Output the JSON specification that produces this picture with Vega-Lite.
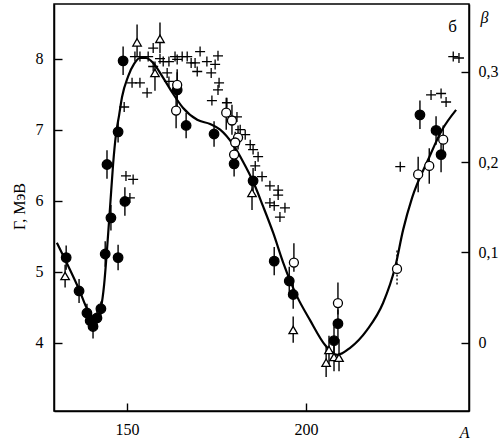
{
  "$schema": "https://vega.github.io/schema/vega-lite/v6.json",
  "width": 415,
  "height": 407,
  "autosize": "none",
  "padding": {"left": 54, "top": 4, "right": 34, "bottom": 31},
  "background": "white",
  "config": {
    "view": {"stroke": "black", "strokeWidth": 1.5},
    "font": "Liberation Serif",
    "axis": {
      "grid": false,
      "domainColor": "black",
      "domainWidth": 1.5,
      "tickColor": "black",
      "tickWidth": 1.4,
      "tickSize": -8,
      "labelColor": "black",
      "titleColor": "black",
      "labelFont": "Liberation Serif",
      "titleFont": "Liberation Serif",
      "labelFontSize": 16,
      "titleFontSize": 16,
      "titleFontWeight": "normal"
    }
  },
  "datasets": {
    "curve": [
      {"A": 130.4, "G": 5.41}, {"A": 133.0, "G": 5.14}, {"A": 136.6, "G": 4.75},
      {"A": 139.1, "G": 4.45}, {"A": 141.3, "G": 4.32}, {"A": 142.7, "G": 4.49},
      {"A": 143.6, "G": 4.82}, {"A": 144.4, "G": 5.31}, {"A": 145.3, "G": 5.94},
      {"A": 146.1, "G": 6.51}, {"A": 146.9, "G": 6.93}, {"A": 147.8, "G": 7.21},
      {"A": 148.6, "G": 7.46}, {"A": 150.3, "G": 7.75}, {"A": 152.0, "G": 7.93},
      {"A": 153.6, "G": 8.01}, {"A": 155.3, "G": 8.01}, {"A": 157.3, "G": 7.94},
      {"A": 160.1, "G": 7.73}, {"A": 162.8, "G": 7.51}, {"A": 165.6, "G": 7.31},
      {"A": 169.6, "G": 7.14}, {"A": 173.2, "G": 7.08}, {"A": 176.0, "G": 7.0},
      {"A": 179.6, "G": 6.79}, {"A": 182.4, "G": 6.55}, {"A": 185.2, "G": 6.27},
      {"A": 188.0, "G": 5.92}, {"A": 190.8, "G": 5.55}, {"A": 193.6, "G": 5.13},
      {"A": 197.5, "G": 4.65}, {"A": 201.1, "G": 4.32}, {"A": 205.3, "G": 3.97},
      {"A": 208.7, "G": 3.83}, {"A": 212.3, "G": 3.93}, {"A": 217.0, "G": 4.18},
      {"A": 221.5, "G": 4.56}, {"A": 224.9, "G": 5.07}, {"A": 227.1, "G": 5.59},
      {"A": 229.6, "G": 6.04}, {"A": 234.1, "G": 6.58}, {"A": 238.0, "G": 7.0},
      {"A": 241.9, "G": 7.28}
    ],
    "points": [
      {"A": 149.2, "G": 7.32, "series": "cross"}, {"A": 151.4, "G": 7.66, "series": "cross"},
      {"A": 153.6, "G": 7.66, "series": "cross"}, {"A": 155.6, "G": 7.52, "series": "cross"},
      {"A": 149.7, "G": 6.35, "series": "cross"}, {"A": 151.7, "G": 6.30, "series": "cross"},
      {"A": 150.8, "G": 6.04, "series": "cross"}, {"A": 153.6, "G": 8.03, "series": "cross"},
      {"A": 152.2, "G": 8.03, "series": "cross"}, {"A": 155.9, "G": 8.03, "series": "cross"},
      {"A": 157.3, "G": 8.15, "series": "cross"}, {"A": 157.3, "G": 7.89, "series": "cross"},
      {"A": 159.2, "G": 8.0, "series": "cross"}, {"A": 160.1, "G": 7.96, "series": "cross"},
      {"A": 161.7, "G": 7.96, "series": "cross"}, {"A": 161.2, "G": 7.80, "series": "cross"},
      {"A": 161.7, "G": 7.68, "series": "cross"}, {"A": 163.4, "G": 8.03, "series": "cross"},
      {"A": 164.0, "G": 7.99, "series": "cross"}, {"A": 165.4, "G": 8.03, "series": "cross"},
      {"A": 166.8, "G": 8.03, "series": "cross"}, {"A": 167.9, "G": 7.94, "series": "cross"},
      {"A": 169.0, "G": 7.94, "series": "cross"}, {"A": 170.4, "G": 8.10, "series": "cross"},
      {"A": 172.3, "G": 7.96, "series": "cross"}, {"A": 175.4, "G": 8.04, "series": "cross"},
      {"A": 174.6, "G": 7.92, "series": "cross"}, {"A": 169.6, "G": 7.82, "series": "cross"},
      {"A": 173.5, "G": 7.80, "series": "cross"}, {"A": 175.7, "G": 7.66, "series": "cross"},
      {"A": 175.4, "G": 7.56, "series": "cross"}, {"A": 173.7, "G": 7.41, "series": "cross"},
      {"A": 177.9, "G": 7.38, "series": "cross"}, {"A": 180.7, "G": 7.18, "series": "cross"},
      {"A": 181.6, "G": 7.0, "series": "cross"}, {"A": 183.0, "G": 6.93, "series": "cross"},
      {"A": 184.4, "G": 6.79, "series": "cross"}, {"A": 185.2, "G": 6.72, "series": "cross"},
      {"A": 186.6, "G": 6.62, "series": "cross"}, {"A": 185.8, "G": 6.49, "series": "cross"},
      {"A": 187.7, "G": 6.34, "series": "cross"}, {"A": 189.9, "G": 6.21, "series": "cross"},
      {"A": 192.2, "G": 6.15, "series": "cross"}, {"A": 192.2, "G": 6.08, "series": "cross"},
      {"A": 189.9, "G": 5.97, "series": "cross"}, {"A": 191.1, "G": 5.93, "series": "cross"},
      {"A": 194.1, "G": 5.90, "series": "cross"}, {"A": 192.7, "G": 5.77, "series": "cross"},
      {"A": 241.1, "G": 8.03, "series": "cross"}, {"A": 242.7, "G": 8.01, "series": "cross"},
      {"A": 234.9, "G": 7.49, "series": "cross"}, {"A": 237.7, "G": 7.51, "series": "cross"},
      {"A": 239.1, "G": 7.39, "series": "cross"}, {"A": 226.3, "G": 6.48, "series": "cross"},

      {"A": 133.0, "G": 5.20, "lo": 5.03, "hi": 5.37, "series": "filled"},
      {"A": 136.6, "G": 4.73, "lo": 4.56, "hi": 4.90, "series": "filled"},
      {"A": 138.8, "G": 4.42, "lo": 4.29, "hi": 4.55, "series": "filled"},
      {"A": 139.7, "G": 4.31, "lo": 4.18, "hi": 4.44, "series": "filled"},
      {"A": 140.5, "G": 4.23, "lo": 4.06, "hi": 4.40, "series": "filled"},
      {"A": 141.6, "G": 4.35, "lo": 4.22, "hi": 4.48, "series": "filled"},
      {"A": 142.7, "G": 4.48, "lo": 4.38, "hi": 4.58, "series": "filled"},
      {"A": 143.9, "G": 5.25, "lo": 5.07, "hi": 5.43, "series": "filled"},
      {"A": 145.5, "G": 5.76, "lo": 5.58, "hi": 5.94, "series": "filled"},
      {"A": 144.4, "G": 6.51, "lo": 6.31, "hi": 6.71, "series": "filled"},
      {"A": 147.5, "G": 6.97, "lo": 6.82, "hi": 7.12, "series": "filled"},
      {"A": 147.5, "G": 5.20, "lo": 5.02, "hi": 5.38, "series": "filled"},
      {"A": 149.4, "G": 5.99, "lo": 5.79, "hi": 6.19, "series": "filled"},
      {"A": 148.9, "G": 7.97, "lo": 7.77, "hi": 8.17, "series": "filled"},
      {"A": 164.0, "G": 7.56, "lo": 7.31, "hi": 7.81, "series": "filled"},
      {"A": 166.5, "G": 7.06, "lo": 6.88, "hi": 7.24, "series": "filled"},
      {"A": 174.3, "G": 6.94, "lo": 6.76, "hi": 7.12, "series": "filled"},
      {"A": 179.9, "G": 6.52, "lo": 6.34, "hi": 6.70, "series": "filled"},
      {"A": 185.2, "G": 6.28, "lo": 6.10, "hi": 6.46, "series": "filled"},
      {"A": 191.1, "G": 5.15, "lo": 4.95, "hi": 5.35, "series": "filled"},
      {"A": 195.3, "G": 4.87, "lo": 4.67, "hi": 5.07, "series": "filled"},
      {"A": 196.4, "G": 4.68, "lo": 4.48, "hi": 4.88, "series": "filled"},
      {"A": 208.9, "G": 4.27, "lo": 4.07, "hi": 4.47, "series": "filled"},
      {"A": 207.8, "G": 4.03, "lo": 3.83, "hi": 4.23, "series": "filled"},
      {"A": 231.8, "G": 7.21, "lo": 7.01, "hi": 7.41, "series": "filled"},
      {"A": 236.3, "G": 6.99, "lo": 6.79, "hi": 7.19, "series": "filled"},
      {"A": 237.7, "G": 6.65, "lo": 6.40, "hi": 6.90, "series": "filled"},

      {"A": 164.0, "G": 7.63, "lo": 7.43, "hi": 7.85, "series": "open"},
      {"A": 163.7, "G": 7.27, "lo": 7.02, "hi": 7.52, "series": "open"},
      {"A": 177.7, "G": 7.24, "lo": 7.00, "hi": 7.45, "series": "open"},
      {"A": 179.3, "G": 7.13, "lo": 6.93, "hi": 7.35, "series": "open"},
      {"A": 181.0, "G": 6.89, "lo": 6.72, "hi": 7.06, "series": "open"},
      {"A": 180.2, "G": 6.82, "lo": 6.67, "hi": 6.97, "series": "open"},
      {"A": 179.9, "G": 6.65, "lo": 6.50, "hi": 6.80, "series": "open"},
      {"A": 196.6, "G": 5.13, "lo": 5.00, "hi": 5.40, "series": "open"},
      {"A": 208.9, "G": 4.56, "lo": 4.40, "hi": 4.85, "series": "open"},
      {"A": 225.4, "G": 5.04, "series": "open"},
      {"A": 231.3, "G": 6.37, "lo": 6.12, "hi": 6.62, "series": "open"},
      {"A": 234.4, "G": 6.49, "lo": 6.24, "hi": 6.74, "series": "open"},
      {"A": 238.3, "G": 6.86, "lo": 6.66, "hi": 7.06, "series": "open"},

      {"A": 132.7, "G": 4.94, "lo": 4.78, "hi": 5.10, "series": "triangle"},
      {"A": 152.8, "G": 8.23, "lo": 8.03, "hi": 8.48, "series": "triangle"},
      {"A": 159.2, "G": 8.28, "lo": 8.08, "hi": 8.51, "series": "triangle"},
      {"A": 157.8, "G": 7.80, "lo": 7.55, "hi": 7.96, "series": "triangle"},
      {"A": 184.9, "G": 6.11, "lo": 5.87, "hi": 6.25, "series": "triangle"},
      {"A": 196.4, "G": 4.18, "lo": 4.00, "hi": 4.37, "series": "triangle"},
      {"A": 205.6, "G": 3.72, "lo": 3.52, "hi": 3.94, "series": "triangle"},
      {"A": 206.4, "G": 3.90, "lo": 3.70, "hi": 4.10, "series": "triangle"},
      {"A": 207.8, "G": 3.80, "lo": 3.60, "hi": 4.05, "series": "triangle"},
      {"A": 209.2, "G": 3.79, "lo": 3.60, "hi": 4.05, "series": "triangle"}
    ],
    "uncertain": [
      {"A": 225.4, "lo": 4.82, "hi": 5.32}
    ],
    "note": [
      {"label": "б"}
    ]
  },
  "layer": [
    {
      "data": {"name": "curve"},
      "mark": {"type": "line", "color": "black", "strokeWidth": 2.2, "interpolate": "monotone"},
      "encoding": {
        "x": {
          "field": "A", "type": "quantitative",
          "scale": {"domain": [129.6, 245.5], "nice": false, "zero": false},
          "axis": {
            "values": [150, 200], "labelPadding": 18, "title": "A",
            "titleFontStyle": "italic", "titleAlign": "right", "titleAnchor": "end",
            "titleX": 415, "titleY": 26, "titleBaseline": "alphabetic"
          }
        },
        "y": {
          "field": "G", "type": "quantitative",
          "scale": {"domain": [3.04, 8.77], "nice": false, "zero": false},
          "axis": {
            "orient": "left", "values": [4, 5, 6, 7, 8], "labelPadding": 19,
            "title": "Γ, МэВ", "titleAngle": -90, "titleX": -30, "titleY": 202,
            "titleAlign": "center", "titleBaseline": "alphabetic"
          }
        }
      }
    },
    {
      "data": {"name": "points"},
      "transform": [{"filter": "datum.series !== 'cross' && isValid(datum.lo)"}],
      "mark": {"type": "rule", "color": "black", "strokeWidth": 1.4},
      "encoding": {
        "x": {"field": "A", "type": "quantitative", "scale": {"domain": [129.6, 245.5], "nice": false, "zero": false}},
        "y": {
          "field": "lo", "type": "quantitative",
          "scale": {"domain": [3.04, 8.77], "nice": false, "zero": false},
          "axis": {
            "orient": "right", "values": [4, 5.272, 6.544, 7.816], "labelPadding": 17,
            "labelExpr": "datum.value < 4.5 ? '0' : datum.value < 6 ? '0,1' : datum.value < 7 ? '0,2' : '0,3'",
            "title": "β", "titleFontStyle": "italic", "titleAngle": 0,
            "titleX": 11, "titleY": 18, "titleAlign": "left", "titleBaseline": "alphabetic"
          }
        },
        "y2": {"field": "hi"}
      }
    },
    {
      "data": {"name": "uncertain"},
      "mark": {"type": "rule", "color": "black", "strokeWidth": 1.4, "strokeDash": [2, 2]},
      "encoding": {
        "x": {"field": "A", "type": "quantitative", "scale": {"domain": [129.6, 245.5], "nice": false, "zero": false}},
        "y": {"field": "lo", "type": "quantitative", "scale": {"domain": [3.04, 8.77], "nice": false, "zero": false}, "axis": null},
        "y2": {"field": "hi"}
      }
    },
    {
      "data": {"name": "points"},
      "mark": {"type": "point", "stroke": "black", "strokeWidth": 1.3, "opacity": 1, "filled": false},
      "encoding": {
        "x": {"field": "A", "type": "quantitative", "scale": {"domain": [129.6, 245.5], "nice": false, "zero": false}},
        "y": {"field": "G", "type": "quantitative", "scale": {"domain": [3.04, 8.77], "nice": false, "zero": false}, "axis": null},
        "shape": {
          "field": "series", "type": "nominal", "legend": null,
          "scale": {"domain": ["cross", "filled", "open", "triangle"], "range": ["M-1,0L1,0M0,-1L0,1", "circle", "circle", "triangle-up"]}
        },
        "fill": {
          "field": "series", "type": "nominal", "legend": null,
          "scale": {"domain": ["cross", "filled", "open", "triangle"], "range": ["transparent", "black", "white", "white"]}
        },
        "size": {
          "field": "series", "type": "nominal", "legend": null,
          "scale": {"domain": ["cross", "filled", "open", "triangle"], "range": [100, 72, 60, 70]}
        }
      }
    },
    {
      "data": {"name": "note"},
      "mark": {"type": "text", "fontSize": 17, "font": "Liberation Serif", "align": "center", "baseline": "alphabetic", "color": "black"},
      "encoding": {
        "text": {"field": "label"},
        "x": {"datum": 240.9, "type": "quantitative", "scale": {"domain": [129.6, 245.5], "nice": false, "zero": false}},
        "y": {"datum": 8.38, "type": "quantitative", "scale": {"domain": [3.04, 8.77], "nice": false, "zero": false}, "axis": null}
      }
    }
  ],
  "resolve": {"axis": {"y": "independent"}}
}
